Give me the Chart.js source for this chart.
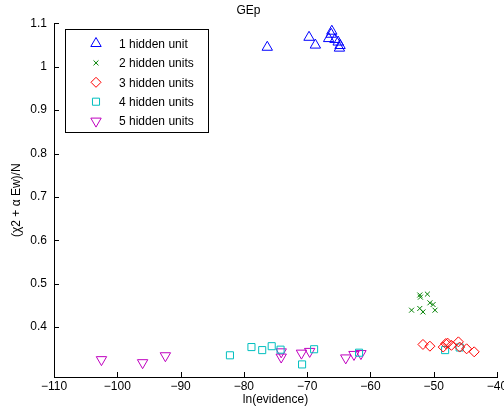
<!DOCTYPE html>
<html>
<head>
<meta charset="utf-8">
<script src="https://cdn.jsdelivr.net/npm/chart.js"></script>
<style>
  html, body { margin: 0; padding: 0; background: #fff; }
  canvas { display: block; }
</style>
</head>
<body>
<canvas id="gepChart" width="504" height="413"></canvas>
<script>
// ln(evidence) and (chi2 + alpha Ew)/N for each network size
var oneUnitX = [-76.3, -69.7, -68.7, -66.1, -66.2, -66.6, -65.6, -65.1, -64.8, -64.9];
var oneUnitY = [1.045, 1.068, 1.050, 1.082, 1.075, 1.065, 1.063, 1.057, 1.049, 1.043];

var twoUnitsX = [-52.1, -51.0, -52.2, -50.6, -50.1, -53.5, -52.2, -51.7, -49.8];
var twoUnitsY = [0.469, 0.476, 0.474, 0.456, 0.452, 0.439, 0.443, 0.435, 0.439];

var threeUnitsX = [-51.7, -50.6, -48.5, -47.8, -47.2, -46.1, -45.9, -44.8, -43.6, -48.1];
var threeUnitsY = [0.360, 0.356, 0.354, 0.363, 0.358, 0.366, 0.354, 0.350, 0.343, 0.362];

var fourUnitsX = [-82.2, -78.8, -77.1, -75.6, -74.2, -70.8, -68.9, -61.8, -48.2, -45.9];
var fourUnitsY = [0.335, 0.354, 0.347, 0.356, 0.348, 0.314, 0.349, 0.341, 0.347, 0.353];

var fiveUnitsX = [-102.5, -96.0, -92.4, -74.1, -74.1, -70.9, -69.6, -63.9, -62.6, -61.5];
var fiveUnitsY = [0.325, 0.318, 0.334, 0.343, 0.331, 0.340, 0.344, 0.329, 0.337, 0.339];

var seriesLabels = ['1 hidden unit', '2 hidden units', '3 hidden units', '4 hidden units', '5 hidden units'];
var xTicks = [-110, -100, -90, -80, -70, -60, -50, -40];
var yTicks = [0.4, 0.5, 0.6, 0.7, 0.8, 0.9, 1.0, 1.1];

function toPoints(xs, ys) {
    return xs.map(function (x, i) { return {x: x, y: ys[i]}; });
}

var FONT = "'Liberation Sans', Arial, Helvetica, sans-serif";

function makeSet(i, xs, ys, color, style, radius, rotation) {
    return {
        label: seriesLabels[i],
        data: toPoints(xs, ys),
        showLine: false,
        borderColor: color,
        backgroundColor: 'rgba(0,0,0,0)',
        borderWidth: 1,
        pointStyle: style,
        pointRadius: radius,
        pointRotation: rotation,
        pointHoverRadius: radius
    };
}

// legend drawn inside the plot, like the matlab one
var boxLegend = {
    id: 'boxLegend',
    afterDraw: function (chart) {
        var ctx = chart.ctx;
        ctx.save();
        ctx.fillStyle = '#fff';
        ctx.fillRect(65.5, 29.5, 143, 103);
        ctx.strokeStyle = '#000';
        ctx.lineWidth = 1;
        ctx.strokeRect(65.5, 29.5, 143, 103);
        ctx.font = '12px ' + FONT;
        ctx.textBaseline = 'middle';
        ctx.textAlign = 'left';
        chart.data.datasets.forEach(function (ds, i) {
            var y = 43.5 + i * 19.4;
            ctx.strokeStyle = ds.borderColor;
            ctx.fillStyle = 'rgba(0,0,0,0)';
            ctx.lineWidth = 1;
            Chart.helpers.drawPoint(ctx, {
                pointStyle: ds.pointStyle,
                radius: ds.pointRadius,
                rotation: ds.pointRotation,
                borderWidth: 1
            }, 96, y);
            ctx.fillStyle = '#000';
            ctx.fillText(ds.label, 119, y + 1);
        });
        ctx.restore();
    }
};

// inward tick marks
var innerTicks = {
    id: 'innerTicks',
    afterDraw: function (chart) {
        var ctx = chart.ctx;
        var xs = chart.scales.x, ys = chart.scales.y;
        var area = chart.chartArea;
        ctx.save();
        ctx.strokeStyle = '#000';
        ctx.lineWidth = 1;
        ctx.beginPath();
        xs.ticks.forEach(function (t) {
            var px = Math.round(xs.getPixelForValue(t.value)) + 0.5;
            ctx.moveTo(px, area.bottom);
            ctx.lineTo(px, area.bottom - 5);
        });
        ys.ticks.forEach(function (t) {
            var py = Math.round(ys.getPixelForValue(t.value)) + 0.5;
            ctx.moveTo(area.left, py);
            ctx.lineTo(area.left + 5, py);
        });
        ctx.stroke();
        ctx.restore();
    }
};

var gepCtx = document.getElementById('gepChart').getContext('2d');
var gepChart = new Chart(gepCtx, {
    type: 'scatter',
    data: {
        datasets: [
            makeSet(0, oneUnitX, oneUnitY, '#0000ff', 'triangle', 6, 0),
            makeSet(1, twoUnitsX, twoUnitsY, '#008000', 'crossRot', 3.5, 0),
            makeSet(2, threeUnitsX, threeUnitsY, '#ff0000', 'rectRot', 5, 0),
            makeSet(3, fourUnitsX, fourUnitsY, '#00bfbf', 'rect', 5, 0),
            makeSet(4, fiveUnitsX, fiveUnitsY, '#bf00bf', 'triangle', 6, 180)
        ]
    },
    options: {
        responsive: false,
        animation: false,
        events: [],
        layout: {
            padding: {left: 0, right: 7, top: 0, bottom: 0}
        },
        plugins: {
            legend: {display: false},
            tooltip: {enabled: false},
            title: {
                display: true,
                text: 'GEp',
                color: '#000',
                font: {family: FONT, size: 12, weight: 'normal'},
                padding: {top: 3, bottom: 6}
            }
        },
        scales: {
            x: {
                type: 'linear',
                min: -110,
                max: -40,
                afterBuildTicks: function (scale) {
                    scale.ticks = xTicks.map(function (v) { return {value: v}; });
                },
                afterFit: function (scale) {
                    scale.height = 36;
                    scale.paddingLeft = 0;
                    scale.paddingRight = 0;
                },
                border: {display: true, color: '#000', width: 1},
                grid: {display: true, drawOnChartArea: false, drawTicks: false},
                ticks: {
                    color: '#000',
                    padding: 2,
                    maxRotation: 0,
                    autoSkip: false,
                    font: {family: FONT, size: 12},
                    callback: function (v) { return String(v).replace('-', '\u2212'); }
                },
                title: {
                    display: true,
                    text: 'ln(evidence)',
                    color: '#000',
                    font: {family: FONT, size: 12},
                    padding: {top: 0, bottom: 6}
                }
            },
            y: {
                type: 'linear',
                min: 0.285,
                max: 1.1,
                afterBuildTicks: function (scale) {
                    scale.ticks = yTicks.map(function (v) { return {value: v}; });
                },
                afterFit: function (scale) {
                    scale.width = 54;
                    scale.paddingTop = 0;
                    scale.paddingBottom = 0;
                },
                border: {display: true, color: '#000', width: 1},
                grid: {display: true, drawOnChartArea: false, drawTicks: false},
                ticks: {
                    color: '#000',
                    padding: 7,
                    autoSkip: false,
                    font: {family: FONT, size: 12},
                    callback: function (v) { return String(Math.round(v * 10) / 10); }
                },
                title: {
                    display: true,
                    text: '(\u03c72 + \u03b1 Ew)/N',
                    color: '#000',
                    font: {family: FONT, size: 12},
                    padding: {top: 9, bottom: 0}
                }
            }
        }
    },
    plugins: [innerTicks, boxLegend]
});
</script>
</body>
</html>
